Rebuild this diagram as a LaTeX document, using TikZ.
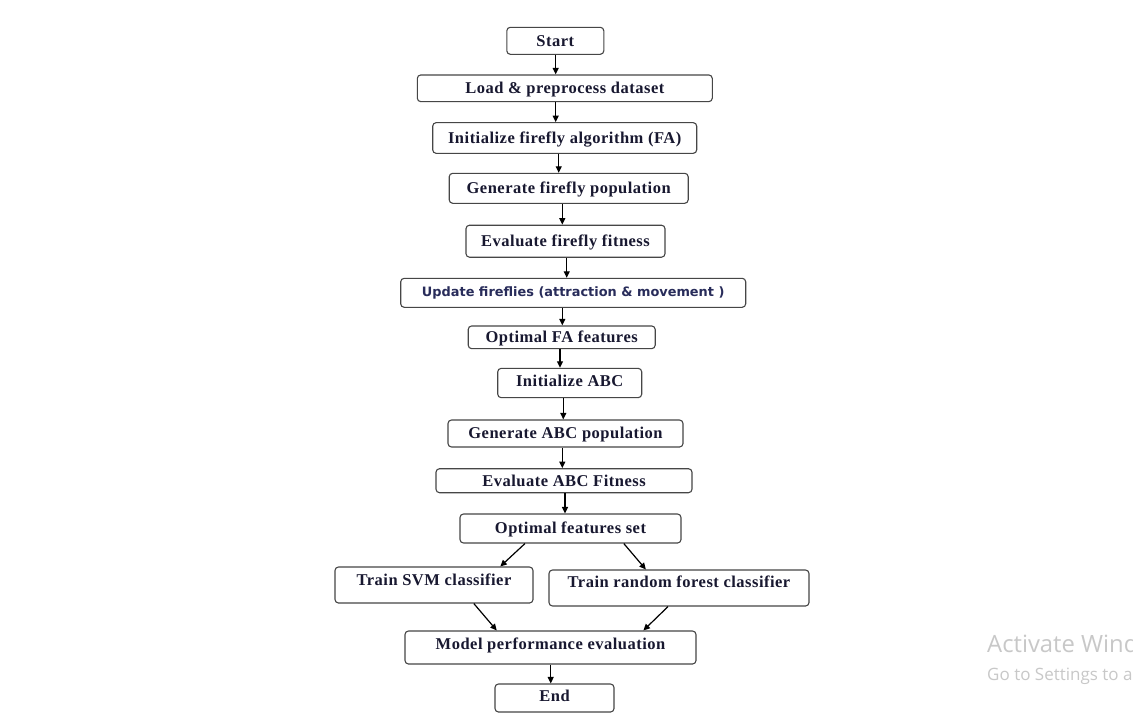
\documentclass[tikz,border=0pt]{standalone}
\usepackage{fontspec}
\usetikzlibrary{arrows.meta,calc}
\newfontfamily\boxfont[LetterSpace=3]{Liberation Serif}
\newfontfamily\updfont{DejaVu Sans}
\newfontfamily\wmfont{Open Sans}
\definecolor{boxc}{RGB}{70,70,70}
\definecolor{txtc}{RGB}{24,24,48}
\definecolor{updc}{RGB}{40,44,90}
\definecolor{wmc}{RGB}{200,200,200}
\begin{document}
\begin{tikzpicture}[x=1pt,y=-1pt,
  box/.style={draw=boxc, line width=1.1pt, rounded corners=3.5pt, fill=white, inner sep=0pt,
    text=txtc, font=\boxfont\bfseries\fontsize{16.5}{18}\selectfont,
    text height=13.2pt, text depth=2.3pt},
  updbox/.style={box, font=\updfont\bfseries\fontsize{12.9}{14}\selectfont, text=updc,
    text height=11pt, text depth=4pt},
  wm/.style={anchor=base west, inner sep=0pt, text=wmc},
  arr/.style={draw=black, line width=1.2pt, -{Triangle[length=6.5pt,width=6pt]}}]
\useasboundingbox (0,0) rectangle (1133,713);
\clip (0,0) rectangle (1133,713);
\fill[white] (0,0) rectangle (1133,713);

\node[box, minimum width=97pt, minimum height=27pt] (start) at (555.3,40.8) {Start};
\node[box, minimum width=295pt, minimum height=26.7pt] (load) at (564.8,88.3) {Load \& preprocess dataset};
\node[box, minimum width=264pt, minimum height=30.7pt] (init) at (564.7,138) {Initialize firefly algorithm (FA)};
\node[box, minimum width=239pt, minimum height=30pt] (genf) at (568.7,188.3) {Generate firefly population};
\node[box, minimum width=199pt, minimum height=32pt] (evalf) at (565.5,241.2) {Evaluate firefly fitness};
\node[updbox, minimum width=345pt, minimum height=29pt] (upd) at (573.2,292.8) {Update fireflies (attraction \& movement )};
\node[box, minimum width=187pt, minimum height=22.7pt] (optfa) at (561.7,337.3) {Optimal FA features};
\node[box, minimum width=144pt, minimum height=29.3pt, text depth=5.5pt] (initabc) at (569.7,383) {Initialize ABC};
\node[box, minimum width=235pt, minimum height=27pt] (genabc) at (565.5,433.5) {Generate ABC population};
\node[box, minimum width=256pt, minimum height=24pt] (evalabc) at (564,480.7) {Evaluate ABC Fitness};
\node[box, minimum width=221pt, minimum height=29pt] (optset) at (570.5,528.5) {Optimal features set};
\node[box, minimum width=198pt, minimum height=36pt, text depth=12.3pt] (svm) at (434,585) {Train SVM classifier\hspace{12pt}};
\node[box, minimum width=260pt, minimum height=36pt, text depth=14.3pt] (rf) at (679,588) {Train random forest classifier\hspace{4pt}};
\node[box, minimum width=291pt, minimum height=33pt, text depth=8.3pt] (model) at (550.5,647.5) {Model performance evaluation};
\node[box, minimum width=119pt, minimum height=28pt, text depth=6.3pt] (end) at (554.5,698) {End};

\draw[arr] ([xshift=0.4pt]start.south) -- ([xshift=-9.1pt]load.north);
\draw[arr] ([xshift=-9.1pt]load.south) -- ([xshift=-9pt]init.north);
\draw[arr] ([xshift=-6pt]init.south) -- ([xshift=-10pt]genf.north);
\draw[arr] ([xshift=-6.4pt]genf.south) -- ([xshift=-3.2pt]evalf.north);
\draw[arr] ([xshift=1.2pt]evalf.south) -- ([xshift=-6.5pt]upd.north);
\draw[arr] ([xshift=-10.9pt]upd.south) -- ([xshift=0.6pt]optfa.north);
\draw[arr] ([xshift=-1.7pt]optfa.south) -- ([xshift=-9.7pt]initabc.north);
\draw[arr] ([xshift=-6.4pt]initabc.south) -- ([xshift=-2.2pt]genabc.north);
\draw[arr] ([xshift=-3.2pt]genabc.south) -- ([xshift=-1.7pt]evalabc.north);
\draw[arr] ([xshift=1pt]evalabc.south) -- ([xshift=-5.5pt]optset.north);
\draw[arr] ($(optset.south west)!0.295!(optset.south east)$) -- ($(svm.north west)!0.833!(svm.north east)$);
\draw[arr] ($(optset.south west)!0.74!(optset.south east)$) -- ($(rf.north west)!0.373!(rf.north east)$);
\draw[arr] ($(svm.south west)!0.70!(svm.south east)$) -- ($(model.north west)!0.316!(model.north east)$);
\draw[arr] ($(rf.south west)!0.458!(rf.south east)$) -- ($(model.north west)!0.818!(model.north east)$);
\draw[arr] ([xshift=0.2pt]model.south) -- ([xshift=-3.8pt]end.north);

\node[wm, font=\wmfont\fontsize{23.8}{26}\selectfont] (wm1) at (987,652) {Activate Windows};
\node[wm, font=\wmfont\fontsize{17}{19}\selectfont] (wm2) at (987,680) {Go to Settings to activate Windows.};
\end{tikzpicture}
\end{document}
